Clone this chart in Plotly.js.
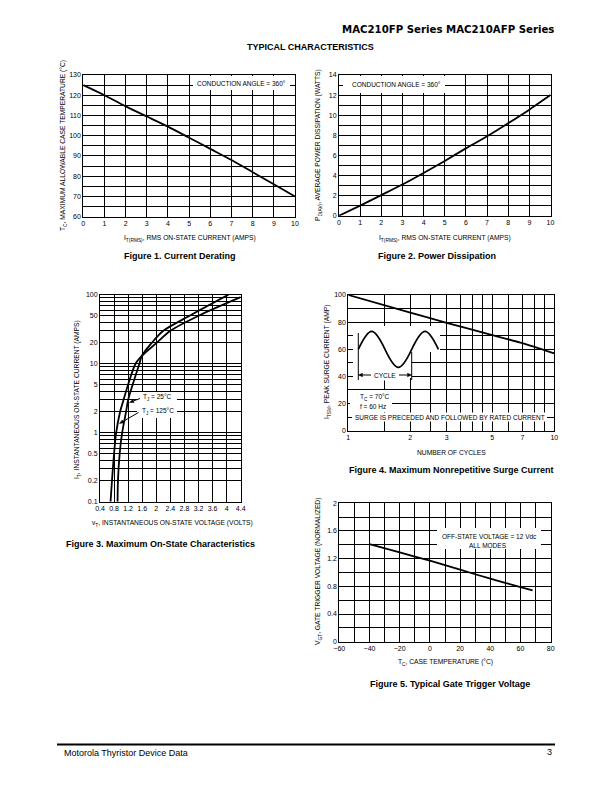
<!DOCTYPE html>
<html><head><meta charset="utf-8">
<script src="https://cdn.plot.ly/plotly-3.0.1.min.js"></script>
<style>html,body{margin:0;padding:0;background:#fff}#chart{width:612px;height:792px}</style>
</head><body><div id="chart"></div>
<script>
// ---------- data ----------
const fig1Current = [0,1,2,3,4,5,6,7,8,9,10];
const fig1CaseTemp = [125,120,114.5,109.5,104.5,99,93.5,88,82,76,70];

const fig2Current = [0,1,2,3,4,5,6,7,8,9,10];
const fig2Power = [0,1.0,2.05,3.1,4.25,5.45,6.7,7.9,9.2,10.55,12];

const fig3Current25 = [0.1,0.2,0.5,1,2,3,5,10,13,20,30,50,100];
const fig3Voltage25 = [0.90,0.91,0.96,1.03,1.14,1.20,1.33,1.52,1.59,1.87,2.20,2.96,4.05];
const fig3Current125 = [0.1,0.2,0.5,1,2,3,5,10,13,20,30,50,92];
const fig3Voltage125 = [0.70,0.74,0.80,0.86,0.97,1.07,1.20,1.41,1.59,2.01,2.40,3.22,4.40];

const fig4Cycles = [1,2,3,5,7,10];
const fig4Surge = [100,87,79.5,70.5,64.5,57];

const fig5Temp = [-40,-20,0,20,40,60,68];
const fig5Vgt = [1.41,1.29,1.17,1.04,0.91,0.79,0.74];

// ---------- tick labels / grid positions ----------
const fig3XTickVals = [0.4,0.8,1.2,1.6,2,2.4,2.8,3.2,3.6,4,4.4];
const fig3XTickText = ['0.4','0.8','1.2','1.6','2','2.4','2.8','3.2','3.6','4','4.4'];
const fig3YTickVals = [0.1,0.2,0.5,1,2,5,10,20,50,100];
const fig3YTickText = ['0.1','0.2','0.5','1','2','5','10','20','50','100'];
const fig3YMinorVals = [0.3,0.4,0.6,0.7,0.8,0.9,3,4,6,7,8,9,30,40,60,70,80,90];
const fig4XTickVals = [1,2,3,5,7,10];
const fig4XTickText = ['1','2','3','5','7','10'];
const fig4XMinorVals = [1.5,2.5,3.5,4,4.5,6,8,9];

// ---------- layout helpers (page pixel -> paper) ----------
const W = 612, H = 792;
const px = x => x / W;
const py = y => 1 - y / H;
const F = 'Liberation Sans, Arial, Helvetica, sans-serif';
const BLACK = '#000';
const GW = 1;
const sub = s => '<span style="font-size:72%;baseline-shift:-1.6px">' + s + '</span>';

function axis(extra) {
  return Object.assign({
    showline: true, mirror: true, linecolor: BLACK, linewidth: 1,
    showgrid: true, gridcolor: BLACK, gridwidth: GW,
    zeroline: false, ticks: '', fixedrange: true,
    tickfont: {family: F, size: 7, color: BLACK}
  }, extra);
}
const minorGrid = d => ({dtick: d, showgrid: true, gridcolor: BLACK, gridwidth: GW, ticks: ''});
const minorArr = v => ({tickmode: 'array', tickvals: v, showgrid: true, gridcolor: BLACK, gridwidth: GW, ticks: ''});

function txt(text, x, y, opts) {
  return Object.assign({
    xref: 'paper', yref: 'paper', x: px(x), y: py(y), text: text, showarrow: false,
    font: {family: F, size: 6.5, color: BLACK}, xanchor: 'center', yanchor: 'middle'
  }, opts || {});
}
const AX = 6.7;
function xtitle(text, x, y) { return txt(text, x, y, {font: {family: F, size: AX, color: BLACK}}); }
function vtxt(text, x, y) {
  return txt(text, x, y, {textangle: -90, font: {family: F, size: AX, color: BLACK}});
}
function title(text, x, y) {
  return txt(text, x, y, {font: {family: F, size: 9, color: BLACK, weight: 'bold'}});
}
function whiteBox(x0, y0, x1, y1) {
  return {type: 'rect', xref: 'paper', yref: 'paper', x0: px(x0), x1: px(x1), y0: py(y0), y1: py(y1),
          fillcolor: '#fff', line: {width: 0}, layer: 'above'};
}
function pline(x0, y0, x1, y1, w) {
  return {type: 'line', xref: 'paper', yref: 'paper', x0: px(x0), x1: px(x1), y0: py(y0), y1: py(y1),
          line: {color: BLACK, width: w || 1}, layer: 'above'};
}
function ppath(cmds, w, fill) {
  const s = cmds.map(c => c[0] + (c.length > 1 ? ' ' + c.slice(1).map((v, i) => (i % 2 === 0 ? px(v) : py(v)).toFixed(5)).join(',') : '')).join(' ');
  const o = {type: 'path', xref: 'paper', yref: 'paper', path: s, line: {color: BLACK, width: w}, layer: 'above'};
  if (fill) o.fillcolor = BLACK;
  return o;
}
// arrow: line from tail to tip plus a filled head (page pixels)
function arrow(tipX, tipY, tailX, tailY) {
  const dx = tipX - tailX, dy = tipY - tailY, L = Math.hypot(dx, dy);
  const ux = dx / L, uy = dy / L, hl = 4.2, hw = 1.7;
  const bx = tipX - ux * hl, by = tipY - uy * hl;
  return [
    pline(tailX, tailY, bx, by, 1),
    ppath([['M', tipX, tipY], ['L', bx - uy * hw, by + ux * hw], ['L', bx + uy * hw, by - ux * hw], ['Z']], 0.5, true)
  ];
}

const lineStyle = {color: BLACK, width: 1.8};
const traces = [
  {x: fig1Current, y: fig1CaseTemp, xaxis: 'x', yaxis: 'y', mode: 'lines', line: Object.assign({shape: 'spline', smoothing: 0.6}, lineStyle), hoverinfo: 'skip'},
  {x: fig2Current, y: fig2Power, xaxis: 'x2', yaxis: 'y2', mode: 'lines', line: Object.assign({shape: 'spline', smoothing: 0.6}, lineStyle), hoverinfo: 'skip'},
  {x: fig3Voltage25, y: fig3Current25, xaxis: 'x3', yaxis: 'y3', mode: 'lines', line: Object.assign({shape: 'spline', smoothing: 0.8}, lineStyle), hoverinfo: 'skip'},
  {x: fig3Voltage125, y: fig3Current125, xaxis: 'x3', yaxis: 'y3', mode: 'lines', line: Object.assign({shape: 'spline', smoothing: 0.8}, lineStyle), hoverinfo: 'skip'},
  {x: fig4Cycles, y: fig4Surge, xaxis: 'x4', yaxis: 'y4', mode: 'lines', line: Object.assign({shape: 'spline', smoothing: 0.5}, lineStyle), hoverinfo: 'skip'},
  {x: fig5Temp, y: fig5Vgt, xaxis: 'x5', yaxis: 'y5', mode: 'lines', line: Object.assign({shape: 'spline', smoothing: 0.5}, lineStyle), hoverinfo: 'skip'}
];

// sine illustration (page pixels) for Figure 4
const sx = 358.3, sq = 13.35, sm = 349.3, sk = 24, sr = 411.7;
const sineCmds = [
  ['M', sx, sm],
  ['C', sx + 0.849*sq, sm - sk, sx + 1.151*sq, sm - sk, sx + 2*sq, sm],
  ['C', sx + 2.849*sq, sm + sk, sx + 3.151*sq, sm + sk, sx + 4*sq, sm],
  ['C', sx + 4.849*sq, sm - sk, sx + 5.151*sq, sm - sk, sx + 6*sq, sm]
];

const shapes = [
  whiteBox(193, 76, 290, 90),
  whiteBox(343, 76, 445, 93),
  whiteBox(137, 392, 177, 418),
  whiteBox(353, 326, 440, 352),
  whiteBox(353, 352, 412, 378),
  whiteBox(350, 390, 392, 412),
  whiteBox(352, 412.5, 547, 421.5),
  whiteBox(437, 528, 541, 549),
  ppath(sineCmds, 1.7, false),
  pline(sx, 333, sx, 380, 1),
  pline(sr, 352, sr, 380, 1),
  pline(57, 744.5, 555, 744.5, 2)
].concat(
  arrow(sx, 375, 371, 375),
  arrow(sr, 375, 399, 375),
  arrow(129.5, 402.5, 140, 398.5),
  arrow(119.5, 423.5, 138.5, 412.5)
);

const layout = {
  width: W, height: H, margin: {l: 0, r: 0, t: 0, b: 0},
  paper_bgcolor: '#fff', plot_bgcolor: '#fff', showlegend: false,
  font: {family: F, color: BLACK},
  xaxis: axis({domain: [px(83.3), px(295)], anchor: 'y', range: [0, 10], dtick: 1}),
  yaxis: axis({domain: [py(216.7), py(75)], anchor: 'x', range: [60, 130], dtick: 10, minor: minorGrid(5)}),
  xaxis2: axis({domain: [px(339), px(550.5)], anchor: 'y2', range: [0, 10], dtick: 1}),
  yaxis2: axis({domain: [py(215.7), py(75)], anchor: 'x2', range: [0, 14], dtick: 2, minor: minorGrid(1)}),
  xaxis3: axis({domain: [px(100), px(240.7)], anchor: 'y3', range: [0.4, 4.4], tickmode: 'array', tickvals: fig3XTickVals, ticktext: fig3XTickText}),
  yaxis3: axis({domain: [py(501.7), py(294.7)], anchor: 'x3', type: 'log', range: [-1, 2], tickmode: 'array', tickvals: fig3YTickVals, ticktext: fig3YTickText, minor: minorArr(fig3YMinorVals)}),
  xaxis4: axis({domain: [px(348.3), px(554.3)], anchor: 'y4', type: 'log', range: [0, 1], tickmode: 'array', tickvals: fig4XTickVals, ticktext: fig4XTickText, minor: minorArr(fig4XMinorVals)}),
  yaxis4: axis({domain: [py(430.7), py(295)], anchor: 'x4', range: [0, 100], dtick: 20, minor: minorGrid(10)}),
  xaxis5: axis({domain: [px(339.3), px(550.7)], anchor: 'y5', range: [-60, 80], dtick: 20, minor: minorGrid(10)}),
  yaxis5: axis({domain: [py(641.7), py(503.3)], anchor: 'x5', range: [0, 2], dtick: 0.4, minor: minorGrid(0.2)}),
  shapes: shapes,
  annotations: [
    // header
    txt('MAC210FP Series MAC210AFP Series', 556, 30, {xanchor: 'right', font: {family: 'DejaVu Sans, ' + F, size: 10.2, color: BLACK, weight: 'bold'}}),
    txt('TYPICAL CHARACTERISTICS', 310, 47, {font: {family: F, size: 9, color: BLACK, weight: 'bold'}}),
    // Figure 1
    txt('CONDUCTION ANGLE = 360°', 241.7, 83.3),
    xtitle('I' + sub('T(RMS)') + ', RMS ON-STATE CURRENT (AMPS)', 190, 238),
    vtxt('T' + sub('C') + ', MAXIMUM ALLOWABLE CASE TEMPERATURE (°C)', 63, 146),
    title('Figure 1. Current Derating', 180, 256),
    // Figure 2
    txt('CONDUCTION ANGLE = 360°', 396.7, 85),
    xtitle('I' + sub('T(RMS)') + ', RMS ON-STATE CURRENT (AMPS)', 445, 238),
    vtxt('P' + sub('D(AV)') + ', AVERAGE POWER DISSIPATION (WATTS)', 318, 145),
    title('Figure 2. Power Dissipation', 437, 256),
    // Figure 3
    txt('T' + sub('J') + ' = 25°C', 141, 398, {xanchor: 'left'}),
    txt('T' + sub('J') + ' = 125°C', 139.5, 411.5, {xanchor: 'left'}),
    xtitle('v' + sub('T') + ', INSTANTANEOUS ON-STATE VOLTAGE (VOLTS)', 172, 523),
    vtxt('I' + sub('T') + ', INSTANTANEOUS ON-STATE CURRENT (AMPS)', 77, 400),
    title('Figure 3. Maximum On-State Characteristics', 160, 544),
    // Figure 4
    txt('CYCLE', 385, 375, {bgcolor: '#fff', font: {family: F, size: 6.5, color: BLACK}, borderpad: 1}),
    txt('T' + sub('C') + ' = 70°C', 358, 397, {xanchor: 'left'}),
    txt('f = 60 Hz', 358, 407, {xanchor: 'left'}),
    txt('SURGE IS PRECEDED AND FOLLOWED BY RATED CURRENT', 450, 417),
    xtitle('NUMBER OF CYCLES', 451, 452),
    vtxt('I' + sub('TSM') + ', PEAK SURGE CURRENT (AMP)', 327, 362),
    title('Figure 4. Maximum Nonrepetitive Surge Current', 451, 470),
    // Figure 5
    txt('OFF-STATE VOLTAGE = 12 Vdc', 489, 536),
    txt('ALL MODES', 488, 545),
    xtitle('T' + sub('C') + ', CASE TEMPERATURE (°C)', 445, 662),
    vtxt('V' + sub('GT') + ', GATE TRIGGER VOLTAGE (NORMALIZED)', 318, 572),
    title('Figure 5. Typical Gate Trigger Voltage', 450, 684),
    // footer
    txt('Motorola Thyristor Device Data', 62, 753, {xanchor: 'left', font: {family: F, size: 9, color: BLACK}}),
    txt('3', 554, 752, {xanchor: 'right', font: {family: F, size: 9, color: BLACK}})
  ]
};

Plotly.newPlot('chart', traces, layout, {displayModeBar: false});
</script>
</body></html>
